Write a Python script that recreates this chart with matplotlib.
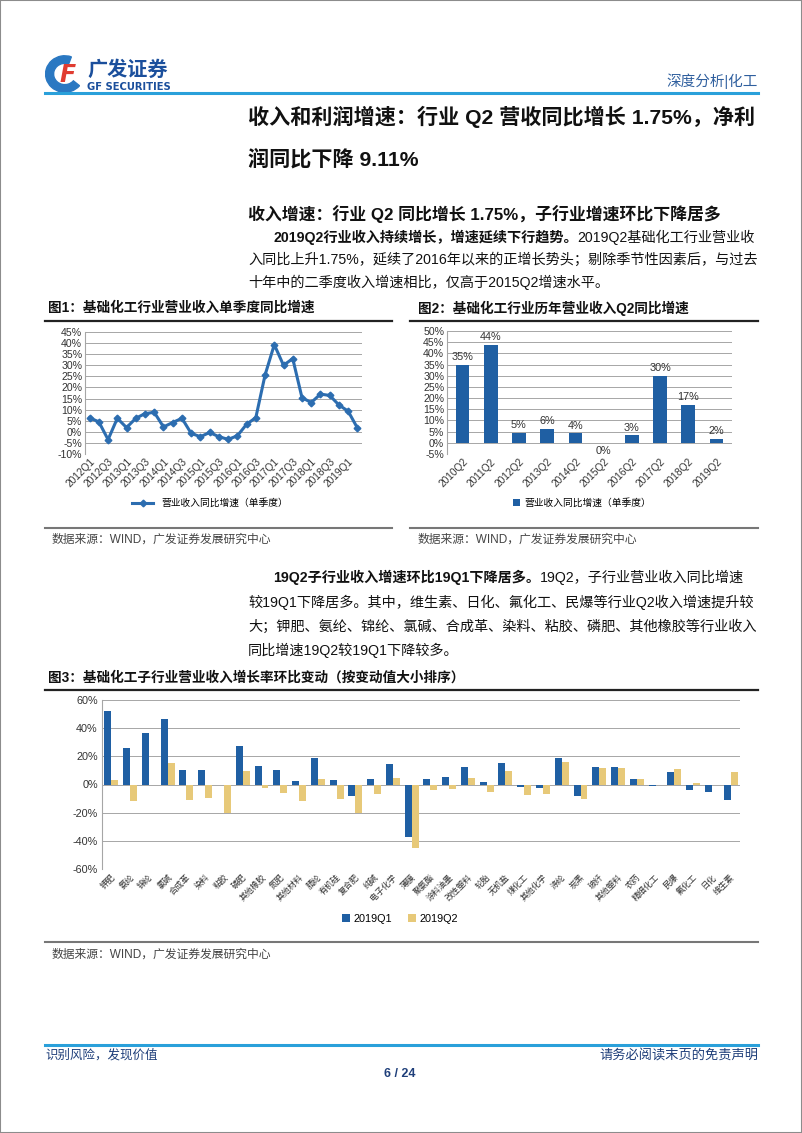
import matplotlib
matplotlib.use("Agg")
import matplotlib.pyplot as plt
from matplotlib.patches import Rectangle, Wedge
from matplotlib.lines import Line2D

plt.rcParams['font.family'] = ['Liberation Sans', 'Noto Sans CJK SC', 'DejaVu Sans']
plt.rcParams['axes.unicode_minus'] = False

W, H = 802, 1133

# 图1 数据: 单季度同比增速
q_labels = ["2012Q1", "2012Q2", "2012Q3", "2012Q4", "2013Q1", "2013Q2", "2013Q3", "2013Q4",
            "2014Q1", "2014Q2", "2014Q3", "2014Q4", "2015Q1", "2015Q2", "2015Q3", "2015Q4",
            "2016Q1", "2016Q2", "2016Q3", "2016Q4", "2017Q1", "2017Q2", "2017Q3", "2017Q4",
            "2018Q1", "2018Q2", "2018Q3", "2018Q4", "2019Q1", "2019Q2"]
q_growth = [6.3, 4.5, -3.5, 6.1, 1.9, 6.1, 8.2, 8.8, 2.2, 4.2, 6.1, -0.7, -2.2, -0.3, -2.2, -3.4,
            -1.8, 3.4, 6.4, 25.6, 39.3, 30.0, 33.0, 15.4, 13.2, 17.0, 16.4, 12.1, 9.3, 1.75]

# 图2 数据: 历年Q2同比增速
y_labels = ["2010Q2", "2011Q2", "2012Q2", "2013Q2", "2014Q2", "2015Q2", "2016Q2", "2017Q2", "2018Q2", "2019Q2"]
y_growth = [35.0, 43.8, 4.6, 6.2, 4.2, -0.2, 3.3, 30.0, 17.0, 1.75]
y_text = ["35%", "44%", "5%", "6%", "4%", "0%", "3%", "30%", "17%", "2%"]

# 图3 数据: 子行业营收增速
sub_names = ["钾肥", "氨纶", "锦纶", "氯碱", "合成革", "染料", "粘胶", "磷肥", "其他橡胶", "氮肥",
             "其他材料", "腈纶", "有机硅", "复合肥", "纯碱", "电子化学", "薄膜", "聚氨酯", "涂料油墨",
             "改性塑料", "轮胎", "无机盐", "煤化工", "其他化学", "涤纶", "炭黑", "玻纤", "其他塑料",
             "农药", "精细化工", "民爆", "氟化工", "日化", "维生素"]
sub_q1 = [52.2, 25.6, 36.5, 46.4, 10.4, 10.1, -0.7, 27.0, 13.4, 10.1, 2.8, 18.6, 3.3, -8.5, 4.2,
          14.4, -37.0, 4.2, 5.2, 12.2, 1.9, 15.0, -1.9, -2.4, 19.0, -8.0, 12.7, 12.7, 3.8, -1.2,
          8.7, -3.8, -5.2, -11.0]
sub_q2 = [3.3, -12.0, 0.0, 15.3, -11.3, -9.9, -20.0, 9.6, -2.8, -5.9, -11.8, 4.2, -10.1, -20.0,
          -6.4, 4.9, -45.0, -3.8, -3.0, 4.5, -5.2, 9.6, -7.5, -6.6, 16.0, -10.0, 11.8, 11.8, 3.8,
          0.0, 11.0, 0.9, 0.0, 9.2]

BLUE = "#1f5fa3"
GOLD = "#e7c979"
LINEBLUE = "#2c6db0"
GRID = "#a6a6a6"
DARKBLUE = "#1f3f7a"
TXT = "#111111"

fig = plt.figure(figsize=(W / 100, H / 100), dpi=100)
fig.patch.set_facecolor("white")


def fx(x):
    return x / W


def fy(y):
    return 1 - y / H


def txt(x, y, s, **kw):
    return fig.text(fx(x), fy(y), s, va="center", **kw)


def hline(x0, x1, y, color, lw):
    fig.add_artist(Line2D([fx(x0), fx(x1)], [fy(y), fy(y)], color=color, lw=lw,
                          transform=fig.transFigure))


def axes_px(left, top, right, bottom):
    return fig.add_axes([fx(left), fy(bottom), (right - left) / W, (bottom - top) / H])


renderer = fig.canvas.get_renderer()


def mixed(x, y, parts, size):
    # 一行里粗体 + 常规文字拼接
    for s, bold in parts:
        t = txt(x, y, s, fontsize=size, fontweight="bold" if bold else "normal", color=TXT)
        x += t.get_window_extent(renderer).width


def style_axes(ax):
    ax.grid(axis="y", color=GRID, lw=0.7)
    ax.set_axisbelow(True)
    for s in ["top", "right", "bottom"]:
        ax.spines[s].set_visible(False)
    ax.spines["left"].set_color(GRID)
    ax.tick_params(length=0, pad=2)


# 页面边框
fig.add_artist(Rectangle((0, 0), 1, 1, transform=fig.transFigure, fill=False,
                         edgecolor="#8c8c8c", lw=1.5))

# 页眉 logo
ax_logo = axes_px(44, 55, 84, 93)
ax_logo.set_xlim(0, 1)
ax_logo.set_ylim(0, 1)
ax_logo.axis("off")
ax_logo.add_patch(Wedge((0.52, 0.5), 0.48, 70, 320, width=0.2, color="#2a78c2"))
ax_logo.text(0.58, 0.48, "F", fontsize=17, fontweight="bold", color="#e03c31",
             ha="center", va="center", style="italic", family="DejaVu Sans")
txt(87, 70, "广发证券", fontsize=14.5, fontweight="bold", color="#1b4f9c")
txt(87, 87, "GF SECURITIES", fontsize=7.2, fontweight="bold", color="#1b4f9c", family="DejaVu Sans")
txt(758, 81, "深度分析|化工", fontsize=10.5, color="#2f5f9e", ha="right")
hline(45, 758, 93, "#2aa0da", 2.2)

# 标题
txt(248, 117, "收入和利润增速：行业 Q2 营收同比增长 1.75%，净利", fontsize=15.2, fontweight="bold", color=TXT)
txt(248, 159, "润同比下降 9.11%", fontsize=15.2, fontweight="bold", color=TXT)
txt(248, 214, "收入增速：行业 Q2 同比增长 1.75%，子行业增速环比下降居多", fontsize=12.2, fontweight="bold", color=TXT)

BODY = 10.2
mixed(273, 237, [("2019Q2行业收入持续增长，增速延续下行趋势。", True),
                 ("2019Q2基础化工行业营业收", False)], BODY)
mixed(248, 260, [("入同比上升1.75%，延续了2016年以来的正增长势头；剔除季节性因素后，与过去", False)], BODY)
mixed(248, 282, [("十年中的二季度收入增速相比，仅高于2015Q2增速水平。", False)], BODY)

# 图1
txt(48, 308, "图1：基础化工行业营业收入单季度同比增速", fontsize=9.8, fontweight="bold", color=TXT)
hline(45, 392, 321, "#222222", 1.6)
ax1 = axes_px(85, 332, 362, 454)
xs = list(range(len(q_labels)))
ax1.plot(xs, q_growth, color=LINEBLUE, lw=2.2, marker="D", markersize=3.4, label="营业收入同比增速（单季度）")
ax1.set_xlim(-0.5, len(q_labels) - 0.5)
ax1.set_ylim(-10, 45)
ax1.set_yticks(range(-10, 46, 5))
ax1.set_yticklabels([f"{v}%" for v in range(-10, 46, 5)], fontsize=7.6, color="#333333")
ax1.set_xticks(xs[::2])
ax1.set_xticklabels(q_labels[::2], rotation=45, ha="right", rotation_mode="anchor", fontsize=7.3,
                    color="#333333")
style_axes(ax1)
ax1.legend(loc="center", bbox_to_anchor=(fx(210), fy(503)), bbox_transform=fig.transFigure,
           frameon=False, fontsize=7, handlelength=2.2)
hline(45, 392, 528, "#777777", 1.5)
txt(52, 540, "数据来源：WIND，广发证券发展研究中心", fontsize=8.5, color="#444444")

# 图2
txt(418, 308, "图2：基础化工行业历年营业收入Q2同比增速", fontsize=9.8, fontweight="bold", color=TXT)
hline(410, 758, 321, "#222222", 1.6)
ax2 = axes_px(447, 331, 732, 454)
xs2 = list(range(len(y_labels)))
ax2.bar(xs2, y_growth, width=0.48, color=BLUE, label="营业收入同比增速（单季度）")
for x, v, s in zip(xs2, y_growth, y_text):
    ax2.text(x, v + 1.2 if v >= 0 else v - 1.2, s, ha="center", va="bottom" if v >= 0 else "top",
             fontsize=7.8, color="#333333")
ax2.set_xlim(-0.55, len(y_labels) - 0.45)
ax2.set_ylim(-5, 50)
ax2.set_yticks(range(-5, 51, 5))
ax2.set_yticklabels([f"{v}%" for v in range(-5, 51, 5)], fontsize=7.6, color="#333333")
ax2.set_xticks(xs2)
ax2.set_xticklabels(y_labels, rotation=45, ha="right", rotation_mode="anchor", fontsize=7.3,
                    color="#333333")
style_axes(ax2)
ax2.legend(loc="center", bbox_to_anchor=(fx(582), fy(503)), bbox_transform=fig.transFigure,
           frameon=False, fontsize=7, handlelength=0.7, handleheight=0.7, handletextpad=0.4)
hline(410, 758, 528, "#777777", 1.5)
txt(418, 540, "数据来源：WIND，广发证券发展研究中心", fontsize=8.5, color="#444444")

# 第二段
mixed(273, 577, [("19Q2子行业收入增速环比19Q1下降居多。", True),
                 ("19Q2，子行业营业收入同比增速", False)], BODY)
mixed(248, 602, [("较19Q1下降居多。其中，维生素、日化、氟化工、民爆等行业Q2收入增速提升较", False)], BODY)
mixed(248, 627, [("大；钾肥、氨纶、锦纶、氯碱、合成革、染料、粘胶、磷肥、其他橡胶等行业收入", False)], BODY)
mixed(248, 650, [("同比增速19Q2较19Q1下降较多。", False)], BODY)

# 图3
txt(48, 678, "图3：基础化工子行业营业收入增长率环比变动（按变动值大小排序）", fontsize=9.8, fontweight="bold", color=TXT)
hline(45, 758, 690, "#222222", 1.6)
ax3 = axes_px(102, 700, 740, 869)
xs3 = list(range(len(sub_names)))
bw = 0.37
ax3.bar([x - bw / 2 for x in xs3], sub_q1, width=bw, color=BLUE, label="2019Q1")
ax3.bar([x + bw / 2 for x in xs3], sub_q2, width=bw, color=GOLD, label="2019Q2")
ax3.set_xlim(-0.5, len(sub_names) - 0.5)
ax3.set_ylim(-60, 60)
ax3.set_yticks(range(-60, 61, 20))
ax3.set_yticklabels([f"{v}%" for v in range(-60, 61, 20)], fontsize=7.8, color="#333333")
ax3.set_xticks(xs3)
ax3.set_xticklabels(sub_names, rotation=45, ha="right", rotation_mode="anchor", fontsize=6, color="#333333")
style_axes(ax3)
ax3.tick_params(pad=3)
ax3.legend(loc="center", bbox_to_anchor=(fx(400), fy(919)), bbox_transform=fig.transFigure,
           frameon=False, fontsize=7.8, ncol=2, handlelength=0.7, handleheight=0.7,
           columnspacing=1.5, handletextpad=0.3)
hline(45, 758, 942, "#777777", 1.5)
txt(52, 955, "数据来源：WIND，广发证券发展研究中心", fontsize=8.5, color="#444444")

# 页脚
hline(45, 758, 1045, "#2aa0da", 2.2)
txt(45, 1055, "识别风险，发现价值", fontsize=9, color=DARKBLUE)
txt(758, 1056, "请务必阅读末页的免责声明", fontsize=9.5, color=DARKBLUE, ha="right")
txt(400, 1074, "6 / 24", fontsize=9, fontweight="bold", color=DARKBLUE, ha="center")

fig.savefig("out.png", dpi=100)
